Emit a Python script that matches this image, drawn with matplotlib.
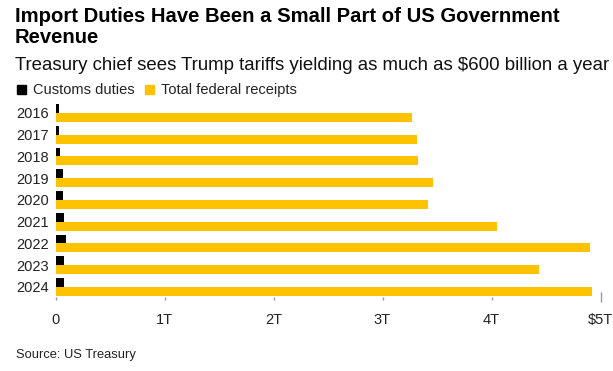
import matplotlib
matplotlib.use("Agg")
import matplotlib.pyplot as plt
from matplotlib.patches import Rectangle

# values in trillions of dollars
years = ["2016", "2017", "2018", "2019", "2020", "2021", "2022", "2023", "2024"]
customs_duties = [0.035, 0.035, 0.041, 0.071, 0.069, 0.080, 0.100, 0.080, 0.077]
federal_receipts = [3.27, 3.32, 3.33, 3.46, 3.42, 4.05, 4.90, 4.44, 4.92]
xtick_vals = [0, 1, 2, 3, 4, 5]
xtick_labels = ["0", "1T", "2T", "3T", "4T", "$5T"]

YELLOW = "#FDC300"
W, H = 613, 371

plt.rcParams["font.family"] = ["Liberation Sans", "DejaVu Sans"]

fig = plt.figure(figsize=(W / 100, H / 100), dpi=100)
ax = fig.add_axes([55.5 / W, 1 - 296.7 / H, (600.5 - 55.5) / W, (296.7 - 100) / H])

pos = list(range(len(years)))
bar_h = 0.41
ax.barh([p - bar_h / 2 for p in pos], customs_duties, height=bar_h, color="black")
ax.barh([p + bar_h / 2 for p in pos], federal_receipts, height=bar_h, color=YELLOW)

ax.set_xlim(0, 5)
ax.set_ylim(8 + 9.7 / 21.75, -13 / 21.75)
ax.set_yticks(pos)
ax.set_yticklabels(years)
ax.set_xticks(xtick_vals)
ax.set_xticklabels(xtick_labels)
for s in ax.spines.values():
    s.set_visible(False)
ax.tick_params(axis="y", length=0, pad=5, labelsize=10.5, labelcolor="#222222")
ax.tick_params(axis="x", length=2.5, width=1, color="#999999", pad=9,
               labelsize=10.5, labelcolor="#222222")
last = ax.xaxis.get_major_ticks()[-1]
last.tick1line.set_marker("|")
last.tick1line.set_markersize(7)

# title block
fig.text(15 / W, 1 - 22 / H, "Import Duties Have Been a Small Part of US Government",
         fontsize=14.6, fontweight="bold", va="baseline", ha="left")
fig.text(15 / W, 1 - 43 / H, "Revenue",
         fontsize=14.6, fontweight="bold", va="baseline", ha="left")
fig.text(15 / W, 1 - 70 / H,
         "Treasury chief sees Trump tariffs yielding as much as $600 billion a year",
         fontsize=13.45, va="baseline", ha="left", color="#111111")

# legend drawn by hand
fig.patches.append(Rectangle((16.7 / W, 1 - 94 / H), 9 / W, 9 / H,
                             color="black", transform=fig.transFigure))
fig.text(33 / W, 1 - 94 / H, "Customs duties", fontsize=10.5, va="baseline", color="#222222")
fig.patches.append(Rectangle((145 / W, 1 - 94 / H), 9 / W, 9 / H,
                             color=YELLOW, transform=fig.transFigure))
fig.text(161 / W, 1 - 94 / H, "Total federal receipts", fontsize=10.5, va="baseline", color="#222222")

fig.text(15.7 / W, 1 - 358 / H, "Source: US Treasury", fontsize=9.3, va="baseline", color="#222222")

fig.savefig("out.png", dpi=100)
